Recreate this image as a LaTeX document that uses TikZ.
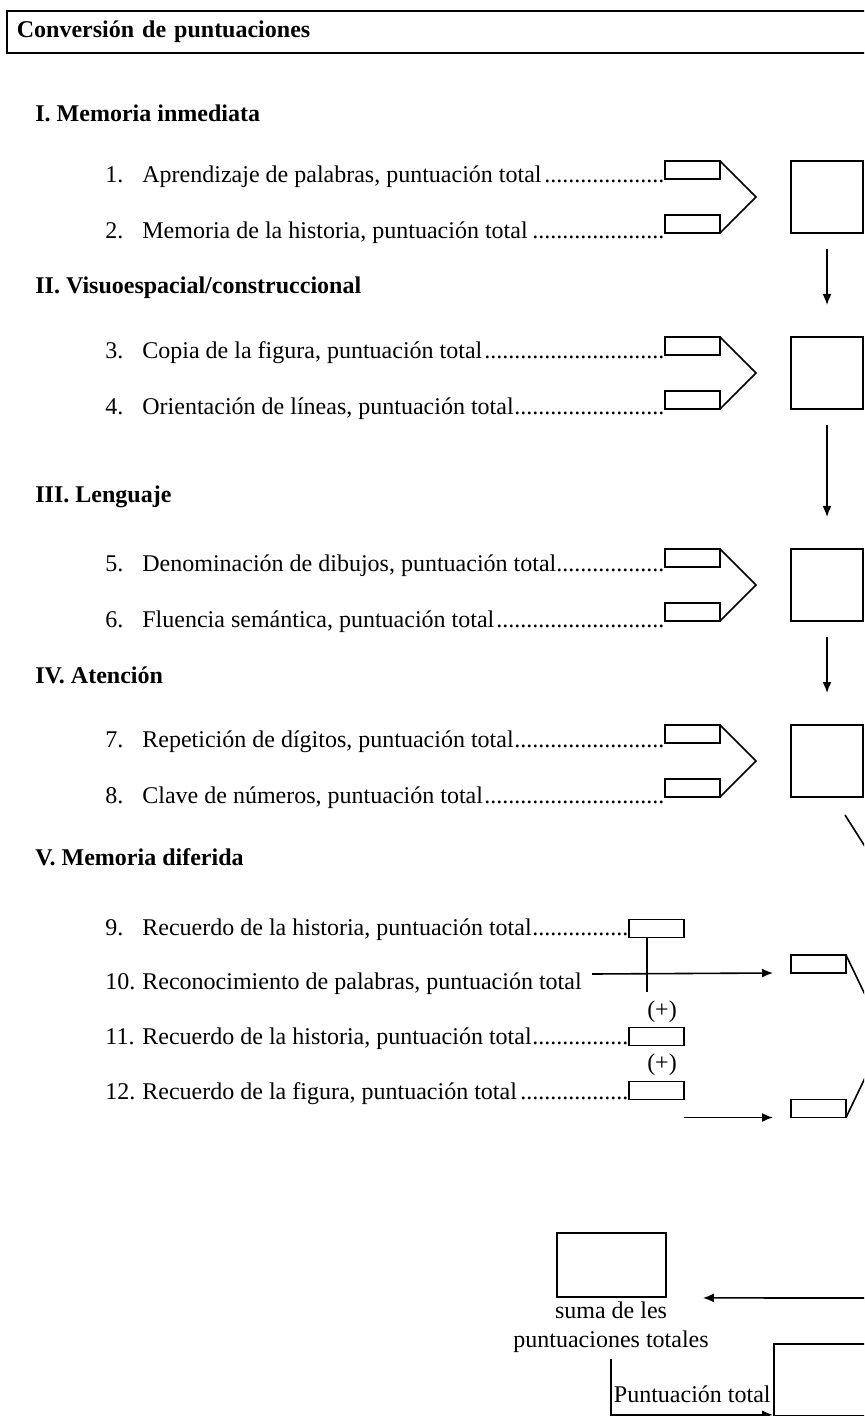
\documentclass[tikz,border=0pt]{standalone}
\usepackage{fontspec}
\setmainfont{Liberation Serif}
\usetikzlibrary{positioning,calc,arrows.meta}
\newcommand{\puntos}{\leaders\hbox{.}\hfill}

\begin{document}
\begin{tikzpicture}[
	x=0.5pt, y=-0.5pt,
	titlebox/.style={
		rectangle,
		draw,
		line width=0.9pt,
		anchor=north west,
		minimum height=21pt,
		text width=427pt,
		inner xsep=5pt,
		align=left,
		font=\fontsize{12}{14.5}\selectfont\bfseries
	},
	sectitle/.style={
		anchor=west,
		inner sep=0pt,
		font=\fontsize{12}{14.5}\selectfont\bfseries
	},
	itemtext/.style={
		anchor=base west,
		inner sep=0pt,
		font=\fontsize{12}{14.5}\selectfont
	},
	slot/.style={
		rectangle,
		draw,
		line width=0.9pt,
		minimum width=27.5pt,
		minimum height=9pt,
		inner sep=0pt,
		outer sep=0pt
	},
	scorebox/.style={
		rectangle,
		draw,
		line width=0.9pt,
		minimum width=36pt,
		minimum height=36pt,
		inner sep=0pt,
		outer sep=0pt
	},
	arrow/.style={
		-{Latex[length=5.5pt,width=4.5pt]},
		line width=0.8pt
	},
	link/.style={
		line width=0.8pt
	}
	]
	
	\useasboundingbox (0,0) rectangle (864,1416);
	\clip (0,0) rectangle (864,1416);
	\fill[white] (0,0) rectangle (864,1416);
	
	% Title
	\node[titlebox] (titulo) at (6,10) {Conversión de puntuaciones};
	
	% Section headings
	\node[sectitle] (secI) at (35,113) {I. Memoria inmediata};
	\node[sectitle] (secII) at (35,288) {II. Visuoespacial/construccional};
	\node[sectitle] (secIII) at (35,497) {III. Lenguaje};
	\node[sectitle] (secIV) at (35,675) {IV. Atención};
	\node[sectitle] (secV) at (35,857) {V. Memoria diferida};
	
	% Items - numbers
	\node[itemtext] (n1) at (105,183) {1.};
	\node[itemtext] (n2) at (105,239) {2.};
	\node[itemtext] (n3) at (105,359) {3.};
	\node[itemtext] (n4) at (105,415) {4.};
	\node[itemtext] (n5) at (105,571) {5.};
	\node[itemtext] (n6) at (105,627) {6.};
	\node[itemtext] (n7) at (105,747) {7.};
	\node[itemtext] (n8) at (105,803) {8.};
	\node[itemtext] (n9) at (105,935) {9.};
	\node[itemtext] (n10) at (105,989) {10.};
	\node[itemtext] (n11) at (105,1044) {11.};
	\node[itemtext] (n12) at (105,1099) {12.};
	
	% Items - texts
	\node[itemtext] (t1) at (142,183) {\makebox[261.5pt][l]{Aprendizaje de palabras, puntuación total\puntos}};
	\node[itemtext] (t2) at (142,239) {\makebox[261.5pt][l]{Memoria de la historia, puntuación total\puntos}};
	\node[itemtext] (t3) at (142,359) {\makebox[261.5pt][l]{Copia de la figura, puntuación total\puntos}};
	\node[itemtext] (t4) at (142,415) {\makebox[261.5pt][l]{Orientación de líneas, puntuación total\puntos}};
	\node[itemtext] (t5) at (142,571) {\makebox[261.5pt][l]{Denominación de dibujos, puntuación total\puntos}};
	\node[itemtext] (t6) at (142,627) {\makebox[261.5pt][l]{Fluencia semántica, puntuación total\puntos}};
	\node[itemtext] (t7) at (142,747) {\makebox[261.5pt][l]{Repetición de dígitos, puntuación total\puntos}};
	\node[itemtext] (t8) at (142,803) {\makebox[261.5pt][l]{Clave de números, puntuación total\puntos}};
	\node[itemtext] (t9) at (142,935) {\makebox[243.5pt][l]{Recuerdo de la historia, puntuación total\puntos}};
	\node[itemtext] (t10) at (142,989) {Reconocimiento de palabras, puntuación total};
	\node[itemtext] (t11) at (142,1044) {\makebox[243.5pt][l]{Recuerdo de la historia, puntuación total\puntos}};
	\node[itemtext] (t12) at (142,1099) {\makebox[243.5pt][l]{Recuerdo de la figura, puntuación total\puntos}};
	
	% Section I
	\node[slot] (r1a) at (692.5,170) {};
	\node[slot] (r1b) at (692.5,224) {};
	\draw[link] (r1a.north east) -- ($(r1a.north east)!0.5!(r1b.south east)+(36,0)$) -- (r1b.south east);
	\node[scorebox] (s1) at (827,197) {};
	
	% Section II
	\node[slot] (r2a) at (692.5,346) {};
	\node[slot] (r2b) at (692.5,400) {};
	\draw[link] (r2a.north east) -- ($(r2a.north east)!0.5!(r2b.south east)+(36,0)$) -- (r2b.south east);
	\node[scorebox] (s2) at (827,373) {};
	
	% Section III
	\node[slot] (r3a) at (692.5,558) {};
	\node[slot] (r3b) at (692.5,612) {};
	\draw[link] (r3a.north east) -- ($(r3a.north east)!0.5!(r3b.south east)+(36,0)$) -- (r3b.south east);
	\node[scorebox] (s3) at (827,585) {};
	
	% Section IV
	\node[slot] (r4a) at (692.5,734) {};
	\node[slot] (r4b) at (692.5,788) {};
	\draw[link] (r4a.north east) -- ($(r4a.north east)!0.5!(r4b.south east)+(36,0)$) -- (r4b.south east);
	\node[scorebox] (s4) at (827,761) {};
	
	% Arrows between score boxes
	\draw[arrow, shorten <=8pt, shorten >=16pt] (s1) -- (s2);
	\draw[arrow, shorten <=8pt, shorten >=16pt] (s2) -- (s3);
	\draw[arrow, shorten <=8pt, shorten >=16pt] (s3) -- (s4);
	\draw[link] ([shift={(-9pt,-9pt)}]s4.south east) -- ++(40,63);
	
	% Section V
	\node[slot] (r9) at (656.5,928.5) {};
	\node[slot] (r11) at (656.5,1036.5) {};
	\node[slot] (r12) at (656.5,1090.5) {};
	\draw[link] ([xshift=-4.75pt]r9.south) -- ++(0,54);
	\node[font=\fontsize{12}{14.5}\selectfont, inner sep=0pt] (mas1) at (662,1012) {(+)};
	\node[font=\fontsize{12}{14.5}\selectfont, inner sep=0pt] (mas2) at (662,1065) {(+)};
	\node[slot] (vtop) at (818.5,964) {};
	\node[slot] (vbot) at (818.5,1108.5) {};
	\draw[link] (vtop.north east) -- ($(vtop.north east)!0.5!(vbot.south east)+(39,0)$) -- (vbot.south east);
	\coordinate (a10) at (592,974);
	\draw[arrow] (a10) -- ([xshift=-9pt]vtop.south west);
	\draw[arrow] ([yshift=-9pt]r12.south east) -- ([xshift=-9pt]vbot.south west);
	
	% Total score
	\coordinate (desde) at (880,1298);
	\node[rectangle, draw, line width=0.9pt, minimum width=54.5pt, minimum height=32pt, inner sep=0pt] (suma) at (611.5,1265) {};
	\draw[arrow] (desde) -- ([xshift=18pt]suma.south east);
	\node[align=center, font=\fontsize{12}{14.5}\selectfont] (sumalbl) at (611,1327) {suma de les\\puntuaciones totales};
	\node[rectangle, draw, line width=0.9pt, minimum width=50pt, minimum height=36pt, inner sep=0pt, anchor=north west] (final) at (773,1343) {};
	\draw[arrow] (sumalbl.south) |- ([yshift=1pt]final.south west);
	\node[itemtext, anchor=base east] (ptotal) at (771,1402) {Puntuación total};
	
\end{tikzpicture}
\end{document}
